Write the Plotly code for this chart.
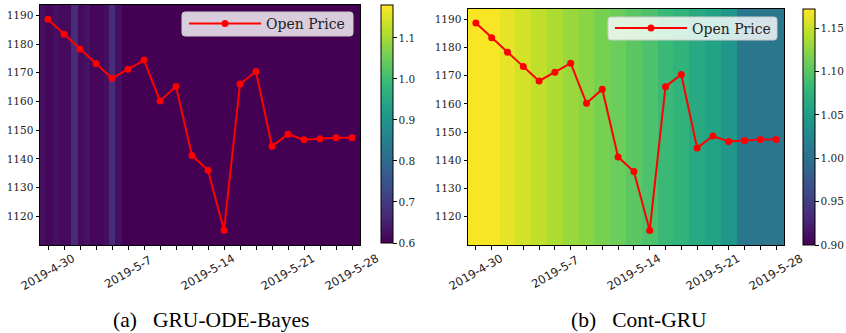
import plotly.graph_objects as go

# ---------------- data ----------------
dates = ["2019-4-30", "2019-5-1", "2019-5-2", "2019-5-3", "2019-5-6",
         "2019-5-7", "2019-5-8", "2019-5-9", "2019-5-10", "2019-5-13",
         "2019-5-14", "2019-5-15", "2019-5-16", "2019-5-17", "2019-5-20",
         "2019-5-21", "2019-5-22", "2019-5-23", "2019-5-24", "2019-5-28"]
open_price = [1188.6, 1183.4, 1178.3, 1173.2, 1168.1, 1171.2, 1174.4, 1160.2,
              1165.2, 1141.2, 1136.0, 1115.1, 1166.1, 1170.4, 1144.4, 1148.6,
              1146.7, 1147.0, 1147.4, 1147.4]
label_idx = [0, 5, 10, 15, 19]

# GRU-ODE-Bayes background intensity (band edges in step units, values)
bayes_edges = [-0.5, -0.16, 0.3, 0.7, 1.44, 1.88, 2.27, 2.63, 3.52, 3.83,
               4.21, 4.64, 19.5]
bayes_vals = [0.625, 0.61, 0.625, 0.615, 0.672, 0.618, 0.628, 0.61, 0.622,
              0.672, 0.625, 0.6]
bayes_range = [0.6, 1.18]
bayes_ticks = [0.6, 0.7, 0.8, 0.9, 1.0, 1.1]

# Cont-GRU background intensity (one value per step)
cont_vals = [1.170, 1.170, 1.162, 1.154, 1.146, 1.138, 1.130, 1.124, 1.116,
             1.110, 1.102, 1.094, 1.084, 1.076, 1.065, 1.057, 1.043, 1.008,
             1.008, 1.008]
cont_range = [0.90, 1.172]
cont_ticks = [0.90, 0.95, 1.00, 1.05, 1.10, 1.15]

y_range = [1110.0, 1193.6]
y_ticks = [1120, 1130, 1140, 1150, 1160, 1170, 1180, 1190]
captions = ["(a)\u00a0\u00a0\u00a0GRU-ODE-Bayes", "(b)\u00a0\u00a0\u00a0Cont-GRU"]

# ---------------- layout helpers ----------------
W, H = 846, 333
def fx(p):
    return p / W
def fy(p):
    return 1 - p / H

idx = list(range(len(dates)))
cont_edges = [i - 0.5 for i in range(len(dates) + 1)]

SERIF = "DejaVu Serif"
tickfont = dict(family=SERIF, size=10.5, color="#222")

fig = go.Figure()

def cbar(x_px, top_px, bot_px, ticks, fmt):
    return dict(x=fx(x_px), xanchor="left", xpad=0, ypad=0,
                y=fy(top_px), yanchor="top", len=bot_px - top_px, lenmode="pixels",
                thickness=12, thicknessmode="pixels", outlinewidth=1,
                outlinecolor="black", ticks="outside", ticklen=3.5, tickwidth=0.8,
                tickcolor="black", tickvals=ticks, tickformat=fmt, tickfont=tickfont)

fig.add_trace(go.Heatmap(x=bayes_edges, y=y_range, z=[bayes_vals],
                         colorscale="Viridis", zmin=bayes_range[0], zmax=bayes_range[1],
                         zsmooth=False, xaxis="x", yaxis="y", hoverinfo="skip",
                         colorbar=cbar(381, 5, 243, bayes_ticks, ".1f")))
fig.add_trace(go.Heatmap(x=cont_edges, y=y_range, z=[cont_vals],
                         colorscale="Viridis", zmin=cont_range[0], zmax=cont_range[1],
                         zsmooth=False, xaxis="x2", yaxis="y2", hoverinfo="skip",
                         colorbar=cbar(803, 9, 245, cont_ticks, ".2f")))

for xa, ya, lg in (("x", "y", "legend"), ("x2", "y2", "legend2")):
    fig.add_trace(go.Scatter(x=idx, y=open_price, mode="lines+markers",
                             name="Open Price", xaxis=xa, yaxis=ya, legend=lg,
                             showlegend=True,
                             line=dict(color="#ff0000", width=2),
                             marker=dict(color="#ff0000", size=7)))

axis_common = dict(showgrid=False, zeroline=False, showline=True, mirror=True,
                   linecolor="black", linewidth=1, ticks="outside", ticklen=3.5,
                   tickwidth=0.8, tickcolor="black")

xcommon = dict(axis_common, range=[-0.5, len(dates) - 0.5], tickvals=idx,
               ticktext=[""] * len(dates))
ycommon = dict(axis_common, range=y_range, tickvals=y_ticks, tickfont=tickfont)

legend_common = dict(bgcolor="rgba(0,0,0,0)", borderwidth=0,
                     font=dict(family=SERIF, size=14, color="#222"),
                     itemwidth=72, xanchor="left", yanchor="middle")


def legend_box(x0, y0, x1, y1, r=3):
    """rounded legend frame given in pixels, drawn in paper coordinates"""
    rx, ry = r / W, r / H
    X0, X1 = fx(x0), fx(x1)
    Y0, Y1 = fy(y0), fy(y1)  # Y0 top, Y1 bottom
    path = (f"M {X0 + rx},{Y0} L {X1 - rx},{Y0} Q {X1},{Y0} {X1},{Y0 - ry} "
            f"L {X1},{Y1 + ry} Q {X1},{Y1} {X1 - rx},{Y1} "
            f"L {X0 + rx},{Y1} Q {X0},{Y1} {X0},{Y1 + ry} "
            f"L {X0},{Y0 - ry} Q {X0},{Y0} {X0 + rx},{Y0} Z")
    return dict(type="path", xref="paper", yref="paper", path=path,
                fillcolor="rgba(255,255,255,0.8)", line=dict(color="#cccccc", width=1),
                layer="above")


shapes = [legend_box(182, 12, 353, 36), legend_box(608, 17, 777, 40)]

annotations = []
for xa in ("x", "x2"):
    for i in label_idx:
        annotations.append(dict(x=i, y=fy(272), xref=xa, yref="paper",
                                text=dates[i], showarrow=False, textangle=-30,
                                xanchor="center", yanchor="middle",
                                font=dict(family="DejaVu Sans", size=11.5, color="#222")))
for cap, xc in zip(captions, (211, 639)):
    annotations.append(dict(x=fx(xc), y=0, xref="paper", yref="paper",
                            text=cap, showarrow=False, xanchor="center",
                            yanchor="bottom", borderpad=0,
                            font=dict(family="Liberation Serif", size=21.5, color="black")))

fig.update_layout(
    width=W, height=H, margin=dict(l=0, r=0, t=0, b=0, autoexpand=False),
    paper_bgcolor="white", plot_bgcolor="white", showlegend=True,
    xaxis=dict(xcommon, domain=[fx(40), fx(360)], anchor="y"),
    yaxis=dict(ycommon, domain=[fy(245), fy(5)], anchor="x"),
    xaxis2=dict(xcommon, domain=[fx(468), fx(784)], anchor="y2"),
    yaxis2=dict(ycommon, domain=[fy(245), fy(9)], anchor="x2"),
    legend=dict(legend_common, x=fx(184), y=fy(24)),
    legend2=dict(legend_common, x=fx(610), y=fy(28.5)),
    shapes=shapes,
    annotations=annotations,
)

fig.write_html("out.html", config={"displayModeBar": False},
               post_script="document.body.style.margin='0';document.body.style.overflow='hidden';")
